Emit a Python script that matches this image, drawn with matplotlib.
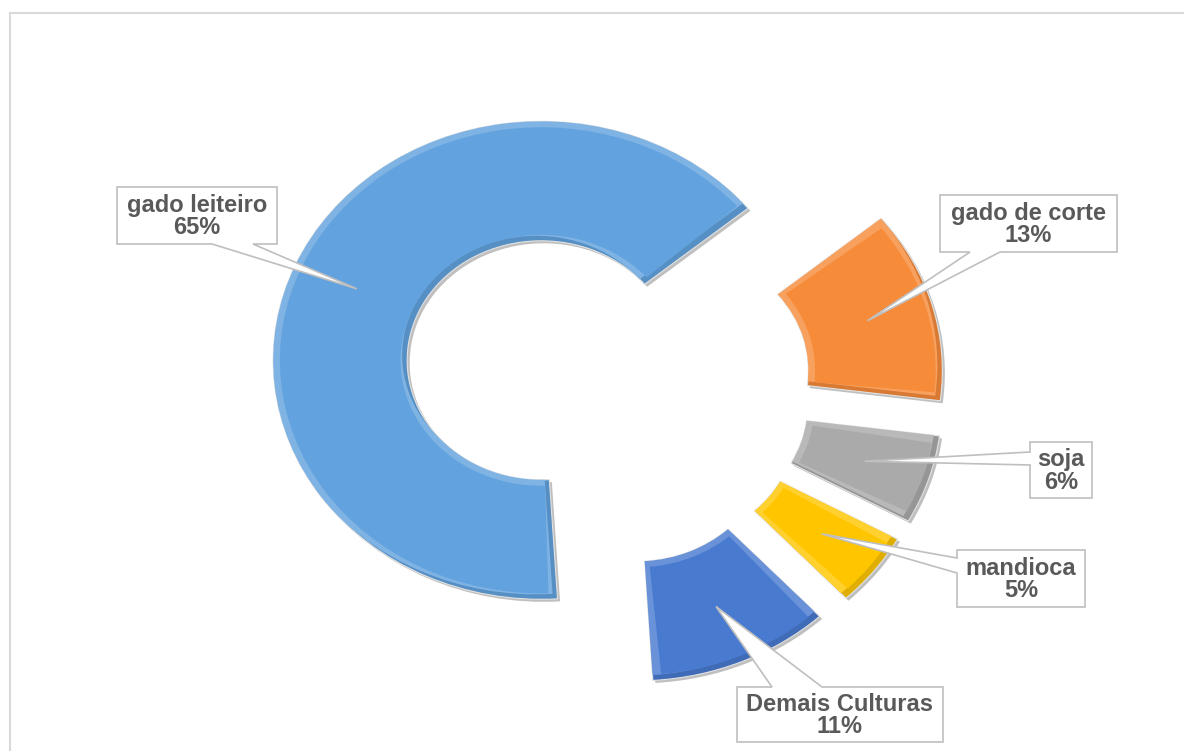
import numpy as np
import matplotlib
matplotlib.use("Agg")
import matplotlib.pyplot as plt
from matplotlib.patches import Wedge, Polygon
from matplotlib.lines import Line2D
from matplotlib.transforms import ScaledTranslation
from matplotlib.colors import to_rgb

# data
labels = ["gado leiteiro", "gado de corte", "soja", "mandioca", "Demais Culturas"]
shares = [65, 13, 6, 5, 11]
colors = ["#62A2DE", "#F68B3A", "#AAAAAA", "#FFC600", "#487AD0"]
explode = [0.28, 0.25, 0.25, 0.25, 0.25]

# label boxes in pixels (x0, y0, x1, y1), side the pointer leaves from, pointer base
boxes = [
    ((117, 187, 277, 244), "bottom", (212, 253)),
    ((940, 195, 1117, 252), "bottom", (970, 1000)),
    ((1030, 442, 1092, 498), "left", (452, 465)),
    ((957, 550, 1085, 607), "left", (558, 573)),
    ((737, 687, 943, 742), "top", (772, 822)),
]

W, H = 1184, 751
CX, CY = 610, 387        # pie centre in pixels
SX, SY = 268, 239        # pixels per unit radius (chart is stretched sideways)


def to_data(px, py):
    return ((px - CX) / SX, (CY - py) / SY)


def to_px(u, v):
    return (CX + u * SX, CY - v * SY)


def mix(c, other, t):
    c = np.array(to_rgb(c))
    return tuple(c * (1 - t) + np.array(other) * t)


fig = plt.figure(figsize=(W / 100, H / 100), dpi=100)
ax = fig.add_axes([0, 0, 1, 1])

wedges, _ = ax.pie(shares, explode=explode, colors=colors, startangle=273.5,
                   counterclock=False, wedgeprops=dict(width=0.5, linewidth=0))

ax.set_aspect("auto")
ax.set_xlim(-CX / SX, (W - CX) / SX)
ax.set_ylim((CY - H) / SY, CY / SY)
ax.axis("off")

shadow_tr = ax.transData + ScaledTranslation(2.5 / 100, -2.5 / 100, fig.dpi_scale_trans)
hl_tr = ax.transData + ScaledTranslation(-5 / 100, 5 / 100, fig.dpi_scale_trans)

for i, w in enumerate(wedges):
    c, t1, t2, r, wd = w.center, w.theta1, w.theta2, w.r, w.width
    base = colors[i]
    # drop shadow
    ax.add_patch(Wedge(c, r, t1, t2, width=wd, fc="#808080", alpha=0.5, lw=0,
                       transform=shadow_tr, zorder=1))
    # bevel: dark bottom-right, light top-left, base colour inside
    w.set_facecolor(mix(base, (0, 0, 0), 0.12))
    w.set_edgecolor("#E2E2E2")
    w.set_linewidth(0.8)
    w.set_zorder(2)
    hl = Wedge(c, r, t1, t2, width=wd, fc=mix(base, (1, 1, 1), 0.18), lw=0,
               transform=hl_tr, zorder=3)
    ax.add_patch(hl)
    hl.set_clip_path(w)
    d = 0.025
    dth = np.degrees(d / 0.75)
    ax.add_patch(Wedge(c, r - d, t1 + dth, t2 - dth, width=wd - 2 * d,
                       fc=base, lw=0, zorder=4))

# callout labels
for i, w in enumerate(wedges):
    (x0, y0, x1, y1), side, (b1, b2) = boxes[i]
    mid = np.radians((w.theta1 + w.theta2) / 2)
    tip = to_px(w.center[0] + 0.75 * np.cos(mid), w.center[1] + 0.75 * np.sin(mid))
    if side == "bottom":
        pts = [(x0, y0), (x1, y0), (x1, y1), (b2, y1), tip, (b1, y1), (x0, y1)]
    elif side == "left":
        pts = [(x0, y0), (x1, y0), (x1, y1), (x0, y1), (x0, b2), tip, (x0, b1)]
    else:
        pts = [(x0, y0), (b1, y0), tip, (b2, y0), (x1, y0), (x1, y1), (x0, y1)]
    ax.add_patch(Polygon([to_data(*p) for p in pts], closed=True, fc="white",
                         ec="#BFBFBF", lw=1.2, zorder=5))
    ax.text(*to_data((x0 + x1) / 2, (y0 + y1) / 2 + 1), f"{labels[i]}\n{shares[i]}%",
            ha="center", va="center", fontsize=17, fontweight="bold",
            color="#595959", family="Liberation Sans", linespacing=0.98, zorder=6)

# chart area frame (only top and left visible)
fig.add_artist(Line2D([10 / W, 1], [1 - 13 / H, 1 - 13 / H], transform=fig.transFigure,
                      color="#D9D9D9", lw=1.5))
fig.add_artist(Line2D([10 / W, 10 / W], [0, 1 - 13 / H], transform=fig.transFigure,
                      color="#D9D9D9", lw=1.5))

fig.savefig("out.png", dpi=100, facecolor="white")
